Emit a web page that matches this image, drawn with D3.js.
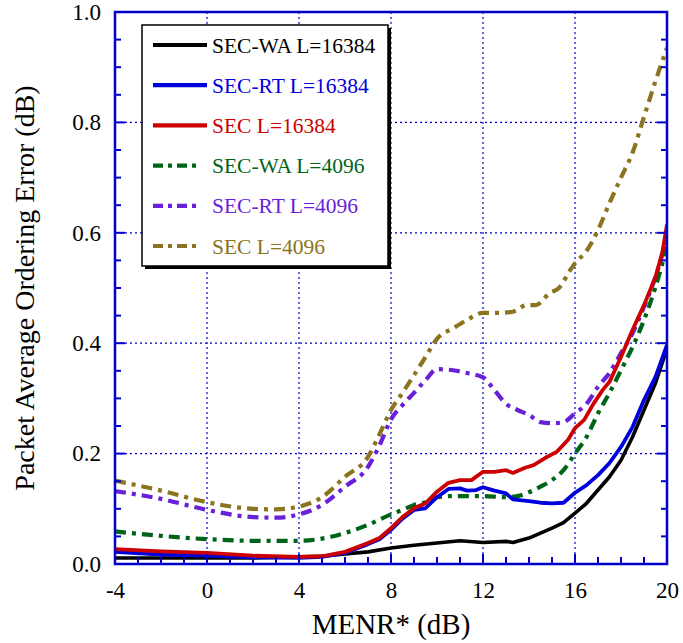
<!DOCTYPE html>
<html><head><meta charset="utf-8">
<script src="https://cdn.jsdelivr.net/npm/d3@7"></script>
<style>body{margin:0;background:#fff}svg{display:block}text{font-family:"Liberation Serif","Times New Roman",serif}</style>
</head><body>
<script>
// ---- data ----
const xTicks = [-4, 0, 4, 8, 12, 16, 20];
const yTicks = [0.0, 0.2, 0.4, 0.6, 0.8, 1.0];
const seriesNames = ["SEC-WA L=16384","SEC-RT L=16384","SEC L=16384","SEC-WA L=4096","SEC-RT L=4096","SEC L=4096"];

const secWa16384X = [-4,-2,0,2,4,5,6,7,8,9,10,11,12,13,13.3,14,14.5,15,15.5,16,16.5,17,17.5,18,18.5,19,19.5,20];
const secWa16384Y = [0.011,0.011,0.011,0.011,0.013,0.014,0.018,0.022,0.029,0.034,0.038,0.042,0.039,0.041,0.039,0.047,0.056,0.065,0.075,0.092,0.11,0.134,0.158,0.188,0.23,0.279,0.328,0.39];

const secRt16384X = [-4,-2,0,2,4,5,6,7,7.5,8,8.5,9,9.5,10,10.5,11,11.3,11.7,12,12.5,13,13.3,14,14.5,15,15.5,16,16.5,17,17.5,18,18.5,19,19.5,20];
const secRt16384Y = [0.022,0.017,0.015,0.012,0.011,0.013,0.02,0.036,0.045,0.062,0.082,0.098,0.101,0.121,0.136,0.137,0.133,0.134,0.139,0.133,0.128,0.117,0.114,0.111,0.11,0.111,0.129,0.143,0.161,0.183,0.212,0.248,0.297,0.339,0.397];

const sec16384X = [-4,-2,0,2,4,5,6,7,7.5,8,8.5,9,9.5,10,10.5,11,11.5,12,12.5,13,13.3,13.8,14.2,14.7,15.2,15.7,16,16.4,16.8,17.2,17.5,18,18.5,19,19.5,19.8,20];
const sec16384Y = [0.027,0.023,0.02,0.015,0.013,0.014,0.022,0.038,0.047,0.065,0.085,0.101,0.11,0.131,0.147,0.152,0.152,0.167,0.167,0.17,0.165,0.174,0.179,0.192,0.203,0.225,0.246,0.261,0.29,0.315,0.33,0.375,0.424,0.469,0.52,0.565,0.615];

const secWa4096X = [-4,-2,0,2,4,5,6,7,8,8.5,9,9.5,10,10.7,11.3,12,13,13.5,14,14.5,15,15.5,16,16.5,17,17.5,18,18.5,19,19.5,20];
const secWa4096Y = [0.059,0.051,0.045,0.042,0.042,0.046,0.056,0.071,0.09,0.098,0.107,0.112,0.121,0.123,0.123,0.123,0.121,0.123,0.13,0.14,0.152,0.17,0.2,0.23,0.273,0.31,0.351,0.393,0.442,0.502,0.575];

const secRt4096X = [-4,-2,0,2,3,4,5,6,7,7.5,8,8.5,9,9.5,10,10.7,11.3,12,12.5,13,13.5,14,14.5,15,15.5,16,16.5,17,17.5,18,18.5,19,19.5,20];
const secRt4096Y = [0.132,0.118,0.098,0.085,0.084,0.09,0.107,0.14,0.176,0.215,0.262,0.288,0.31,0.333,0.353,0.351,0.346,0.338,0.315,0.29,0.279,0.27,0.257,0.255,0.257,0.273,0.29,0.321,0.346,0.382,0.418,0.466,0.52,0.59];

const sec4096X = [-4,-2,0,2,3,4,5,6,7,7.5,8,8.5,9,9.5,10,10.7,11.3,12,12.7,13.3,13.9,14.3,14.9,15.3,15.8,16,16.5,17,17.5,18,18.5,19,19.5,20];
const sec4096Y = [0.151,0.133,0.112,0.1,0.099,0.104,0.121,0.158,0.194,0.235,0.279,0.31,0.342,0.375,0.408,0.427,0.442,0.455,0.455,0.457,0.469,0.469,0.491,0.5,0.533,0.545,0.567,0.605,0.654,0.7,0.745,0.81,0.875,0.935];

const colors = ["#000000","#0000dd","#cc0000","#006418","#6a1fd8","#8a7420"];

// ---- chart ----
const W = 683, H = 643;
const m = {l:115, r:16, t:12, b:79};
const svg = d3.select("body").append("svg").attr("width", W).attr("height", H);
const x = d3.scaleLinear().domain([-4,20]).range([m.l, W-m.r]);
const y = d3.scaleLinear().domain([0,1]).range([H-m.b, m.t]);
const axisCol = "#0000cc";

// grid
const g = svg.append("g");
[0,4,8,12,16].forEach(v => g.append("line").attr("x1",x(v)).attr("x2",x(v)).attr("y1",y(0)).attr("y2",y(1))
  .attr("stroke",axisCol).attr("stroke-width",1.2).attr("stroke-dasharray","2,3"));
[0.2,0.4,0.6,0.8].forEach(v => g.append("line").attr("x1",x(-4)).attr("x2",x(20)).attr("y1",y(v)).attr("y2",y(v))
  .attr("stroke",axisCol).attr("stroke-width",1.2).attr("stroke-dasharray","2,3"));

// series
const seriesData = [
  [secWa16384X, secWa16384Y], [secRt16384X, secRt16384Y], [sec16384X, sec16384Y],
  [secWa4096X, secWa4096Y], [secRt4096X, secRt4096Y], [sec4096X, sec4096Y]
];
const dashes = [null, null, null, "11,6,4,6", "11,6,4,6", "11,6,4,6"];
const widths = [3.6, 3.8, 3.8, 4.2, 4.2, 4.2];
svg.append("clipPath").attr("id","c").append("rect")
  .attr("x",x(-4)).attr("y",y(1)).attr("width",x(20)-x(-4)).attr("height",y(0)-y(1));
const drawOrder = [5,4,3,0,1,2];
drawOrder.forEach(i => {
  const [xs, ys] = seriesData[i];
  const pts = xs.map((d,k)=>[d, ys[k]]);
  const line = d3.line().x(d=>x(d[0])).y(d=>y(d[1])).curve(i<3 ? d3.curveLinear : d3.curveMonotoneX);
  svg.append("path").attr("d", line(pts)).attr("fill","none").attr("stroke",colors[i])
    .attr("stroke-width",widths[i]).attr("stroke-linejoin","round")
    .attr("stroke-dasharray",dashes[i]).attr("clip-path","url(#c)");
});

// axes frame and ticks
const axG = svg.append("g");
axG.append("rect").attr("x",x(-4)).attr("y",y(1)).attr("width",x(20)-x(-4)).attr("height",y(0)-y(1))
  .attr("fill","none").attr("stroke",axisCol).attr("stroke-width",2.5);
for (let v=-3; v<20; v++) {
  const len = (v%4===0) ? 10 : 7;
  axG.append("line").attr("x1",x(v)).attr("x2",x(v)).attr("y1",y(0)).attr("y2",y(0)-len).attr("stroke",axisCol).attr("stroke-width",2);
}
for (let k=1; k<20; k++) {
  const v = k*0.05;
  const len = (k%4===0) ? 10 : 6;
  axG.append("line").attr("x1",x(-4)).attr("x2",x(-4)+len).attr("y1",y(v)).attr("y2",y(v)).attr("stroke",axisCol).attr("stroke-width",2);
  axG.append("line").attr("x1",x(20)).attr("x2",x(20)-len).attr("y1",y(v)).attr("y2",y(v)).attr("stroke",axisCol).attr("stroke-width",2);
}
// tick labels
const xl = svg.append("g").attr("transform",`translate(0,${y(0)})`)
  .call(d3.axisBottom(x).tickValues(xTicks).tickSize(0).tickPadding(18).tickFormat(d => String(d)));
xl.select(".domain").remove();
xl.selectAll("text").attr("font-size",23).attr("fill","#000").attr("font-family","Liberation Serif");
const yl = svg.append("g").attr("transform",`translate(${x(-4)},0)`)
  .call(d3.axisLeft(y).tickValues(yTicks).tickSize(0).tickPadding(14).tickFormat(d3.format(".1f")));
yl.select(".domain").remove();
yl.selectAll("text").attr("font-size",23).attr("fill","#000").attr("font-family","Liberation Serif");

// titles
svg.append("text").attr("x",(x(-4)+x(20))/2).attr("y",634).attr("text-anchor","middle")
  .attr("font-size",29).text("MENR* (dB)");
svg.append("text").attr("transform",`translate(34,${(y(0)+y(1))/2}) rotate(-90)`).attr("text-anchor","middle")
  .attr("font-size",28).text("Packet Average Ordering Error (dB)");

// legend
const lg = svg.append("g");
const L = {x:142, y:25, w:246, h:241};
lg.append("rect").attr("x",L.x+3).attr("y",L.y+3).attr("width",L.w).attr("height",L.h).attr("fill","#000");
lg.append("rect").attr("x",L.x).attr("y",L.y).attr("width",L.w).attr("height",L.h).attr("fill","#fff")
  .attr("stroke","#000").attr("stroke-width",1.5);
seriesNames.forEach((name,i) => {
  const yy = 45 + i*40.2;
  lg.append("line").attr("x1",153).attr("x2",i<3?207:200).attr("y1",yy).attr("y2",yy)
    .attr("stroke",colors[i]).attr("stroke-width",4.2).attr("stroke-dasharray",i<3?null:"10,5,4,5");
  lg.append("text").attr("x",212).attr("y",yy+7.5).attr("font-size",21.5).attr("fill",colors[i]).text(name);
});
</script>
</body></html>
